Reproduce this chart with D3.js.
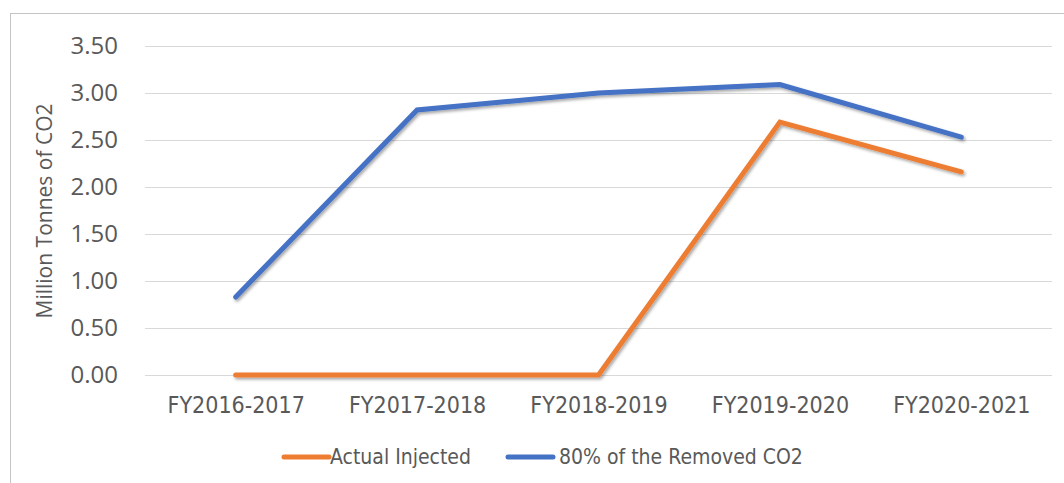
<!DOCTYPE html>
<html>
<head>
<meta charset="utf-8">
<script src="https://cdn.jsdelivr.net/npm/d3@7"></script>
<style>
  body { margin: 0; background: #fff; }
  svg { display: block; }
</style>
</head>
<body>
<svg id="chart" width="1064" height="483"></svg>
<script>
// data
const categories = ["FY2016-2017", "FY2017-2018", "FY2018-2019", "FY2019-2020", "FY2020-2021"];
const actualInjected = [0, 0, 0, 2.69, 2.16];
const removedCO2 = [0.83, 2.82, 3.0, 3.09, 2.53];
const yTicks = [0, 0.5, 1, 1.5, 2, 2.5, 3, 3.5];
const seriesNames = ["Actual Injected", "80% of the Removed CO2"];
const seriesColors = ["#ED7D31", "#4472C4"];

const svg = d3.select("#chart");
const narrow = "'Liberation Sans Narrow', 'DejaVu Sans Condensed', sans-serif";
const textColor = "#595959";

// shadow under the lines, like the office style
const defs = svg.append("defs");
defs.append("filter").attr("id", "shadow")
    .attr("x", "-10%").attr("y", "-10%").attr("width", "120%").attr("height", "130%")
    .append("feDropShadow")
    .attr("dx", 1.5).attr("dy", 2).attr("stdDeviation", 1.4)
    .attr("flood-color", "#000").attr("flood-opacity", 0.35);

// chart frame
svg.append("rect")
    .attr("x", 10.5).attr("y", 13.5).attr("width", 1100).attr("height", 500)
    .attr("fill", "#fff").attr("stroke", "#c4c4c4").attr("stroke-width", 1);

const x = d3.scalePoint().domain(categories).range([145, 1052]).padding(0.5);
const y = d3.scaleLinear().domain([0, 3.5]).range([375, 46]);

// gridlines
svg.append("g")
    .selectAll("line")
    .data(yTicks)
    .join("line")
    .attr("x1", 145).attr("x2", 1052)
    .attr("y1", (d) => Math.round(y(d)) + 0.5)
    .attr("y2", (d) => Math.round(y(d)) + 0.5)
    .attr("stroke", "#d9d9d9").attr("stroke-width", 1);

// y axis labels
const yAxis = svg.append("g")
    .attr("transform", "translate(118,0)")
    .call(d3.axisLeft(y).tickValues(yTicks).tickFormat(d3.format(".2f")).tickSize(0).tickPadding(0));
yAxis.select(".domain").remove();
yAxis.selectAll("text")
    .attr("font-family", "'Open Sans', sans-serif")
    .attr("font-size", 24)
    .attr("fill", textColor);

// x axis labels
const xAxis = svg.append("g")
    .attr("transform", "translate(0,392)")
    .call(d3.axisBottom(x).tickSize(0).tickPadding(0));
xAxis.select(".domain").remove();
xAxis.selectAll("text")
    .attr("font-family", narrow)
    .attr("font-size", 23)
    .attr("fill", textColor)
    .attr("dy", "0.92em");

// axis title
svg.append("text")
    .attr("transform", "translate(52,211) rotate(-90)")
    .attr("text-anchor", "middle")
    .attr("font-family", "'Open Sans', sans-serif")
    .attr("font-size", 21)
    .attr("fill", textColor)
    .text("Million Tonnes of CO2");

// lines
const line = d3.line()
    .x((d, i) => x(categories[i]))
    .y((d) => y(d));

const seriesData = [actualInjected, removedCO2];
svg.append("g")
    .attr("filter", "url(#shadow)")
    .selectAll("path")
    .data(seriesData)
    .join("path")
    .attr("d", line)
    .attr("fill", "none")
    .attr("stroke", (d, i) => seriesColors[i])
    .attr("stroke-width", 5)
    .attr("stroke-linejoin", "miter")
    .attr("stroke-linecap", "round");

// legend
const legendX = [284, 508];
const legend = svg.append("g")
    .selectAll("g")
    .data(seriesNames)
    .join("g")
    .attr("transform", (d, i) => `translate(${legendX[i]},457)`);
legend.append("line")
    .attr("x1", 0).attr("x2", 45)
    .attr("stroke", (d, i) => seriesColors[i])
    .attr("stroke-width", 5)
    .attr("stroke-linecap", "round");
legend.append("text")
    .attr("x", (d, i) => (i === 0 ? 46 : 51))
    .attr("dy", "0.35em")
    .attr("font-family", narrow)
    .attr("font-size", 21)
    .attr("fill", textColor)
    .text((d) => d);
</script>
</body>
</html>
